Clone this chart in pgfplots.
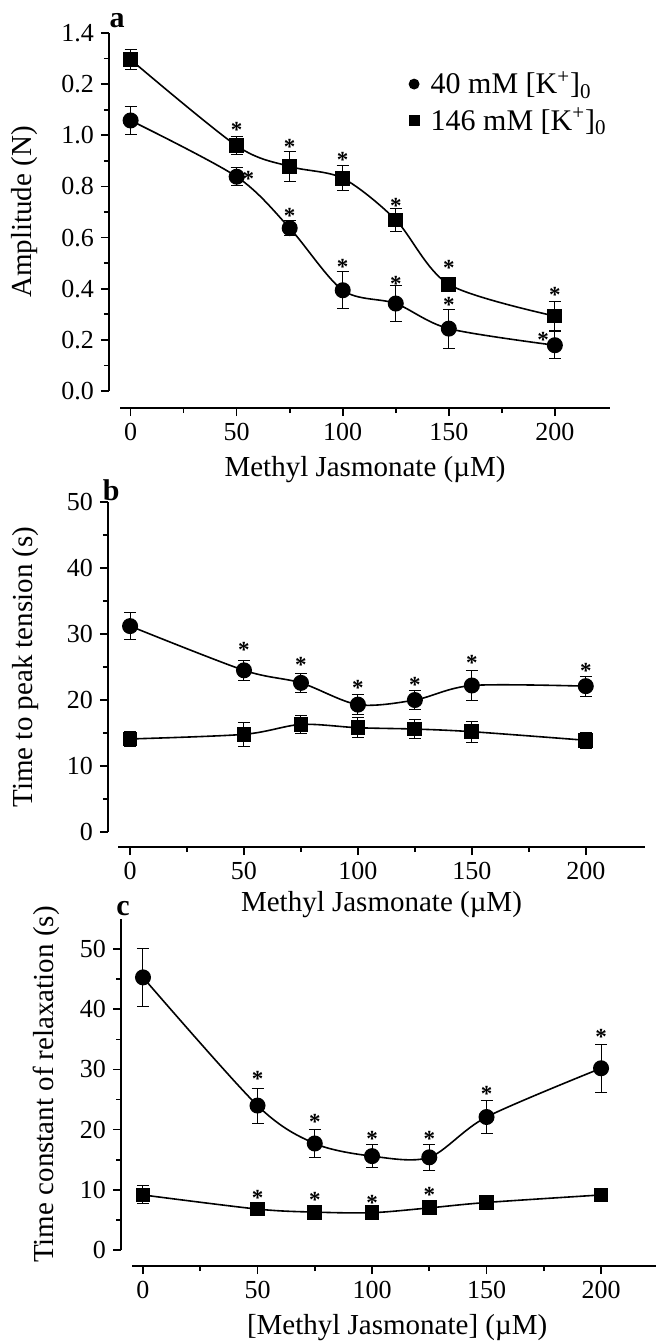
\documentclass[border=0pt]{standalone}
\usepackage{fontspec}
\setmainfont{Liberation Serif}
\usepackage{pgfplots}
\pgfplotsset{compat=1.18}

\pgfplotsset{
  panel/.style={
    scale only axis,
    axis lines=left,
    axis line style={-, line width=1pt},
    tick align=outside,
    major tick length=4pt, minor tick length=2.5pt,
    tick style={black, line width=0.8pt},
    xtick={0,50,...,200}, minor x tick num=1,
    minor y tick num=1,
    tick label style={font=\fontsize{13}{13}\selectfont},
    label style={font=\fontsize{14.5}{15}\selectfont},
    every axis title shift=0pt,
    title style={font=\fontsize{15}{15}\selectfont\bfseries},
    /pgf/number format/assume math mode=true,
    clip=false,
  },
  ebars/.style={
    /pgfplots/error bars/y dir=both,
    /pgfplots/error bars/y explicit,
    /pgfplots/error bars/error bar style={line width=0.5pt},
    /pgfplots/error bars/error mark options={rotate=90, mark size=3pt, line width=0.5pt},
  },
  k40/.style={black, line width=0.8pt, smooth, mark=*, mark size=3.6pt, mark options={solid}, ebars},
  k146/.style={black, line width=0.8pt, smooth, mark=square*, mark size=3.3pt, mark options={solid}, ebars},
  star/.style={black, only marks, mark=text, text mark={\fontsize{11.5}{11.5}\selectfont\bfseries *}, forget plot},
}

\begin{document}
\begin{tikzpicture}
\useasboundingbox (0,0) rectangle (327.5pt,-671.5pt);

% panel a
\begin{axis}[panel,
  at={(60pt,-195.5pt)}, anchor=south west,
  width=245pt, height=179pt,
  xmin=-5, xmax=226, ymin=0, ymax=1.4,
  axis x line shift=8.5pt, axis y line shift=5.5pt,
  ytick={0,0.2,...,1.4},
  yticklabels={0.0,0.2,0.4,0.6,0.8,1.0,0.2,1.4},
  xlabel={Methyl Jasmonate (µM)}, ylabel={Amplitude (N)},
  xlabel style={at={(axis description cs:0.5,-0.22)}, anchor=center},
  ylabel style={at={(axis description cs:-0.194,0.5)}, anchor=center},
  title={a}, title style={at={(axis description cs:-0.006,1.036)}, anchor=center},
  legend style={draw=none, fill=none, at={(axis description cs:0.59,0.905)}, anchor=north west,
    font=\fontsize{15}{15}\selectfont, row sep=1.5pt, column sep=4pt, inner sep=0pt},
  legend cell align=left,
  legend image code/.code={\draw[only marks, mark size=2.3pt] plot coordinates {(0.1cm,0cm)};},
]
\addplot[k40] coordinates {
  (0,1.058) +- (0,0.055)
  (50,0.838) +- (0,0.035)
  (75,0.637) +- (0,0.03)
  (100,0.394) +- (0,0.072)
  (125,0.342) +- (0,0.07)
  (150,0.244) +- (0,0.076)
  (200,0.179) +- (0,0.052)
};
\addlegendentry{40 mM [K\textsuperscript{+}]\textsubscript{0}}
\addplot[k146] coordinates {
  (0,1.296) +- (0,0.04)
  (50,0.959) +- (0,0.036)
  (75,0.878) +- (0,0.06)
  (100,0.832) +- (0,0.048)
  (125,0.669) +- (0,0.044)
  (150,0.417) +- (0,0.01)
  (200,0.293) +- (0,0.058)
};
\addlegendentry{146 mM [K\textsuperscript{+}]\textsubscript{0}}
\addplot[star] coordinates {
  (50,1.02) (75,0.955) (100,0.905) (125,0.725) (150,0.48) (200,0.375)
  (55.5,0.83) (75,0.685) (100,0.485) (125,0.42) (150,0.335) (194.5,0.20)
};
\end{axis}

% panel b
\begin{axis}[panel,
  at={(59pt,-416pt)}, anchor=south west,
  width=263.5pt, height=165pt,
  xmin=-5.3, xmax=226, ymin=0, ymax=50,
  axis x line shift=7.5pt, axis y line shift=5pt,
  ytick={0,10,...,50},
  xlabel={Methyl Jasmonate (µM)}, ylabel={Time to peak tension (s)},
  xlabel style={at={(axis description cs:0.5,-0.221)}, anchor=center},
  ylabel style={at={(axis description cs:-0.176,0.5)}, anchor=center},
  title={b}, title style={at={(axis description cs:-0.013,1.036)}, anchor=center},
]
\addplot[k40] coordinates {
  (0,31.2) +- (0,2.1)
  (50,24.5) +- (0,1.5)
  (75,22.6) +- (0,1.4)
  (100,19.3) +- (0,1.5)
  (125,20.0) +- (0,1.4)
  (150,22.2) +- (0,2.3)
  (200,22.1) +- (0,1.5)
};
\addplot[k146] coordinates {
  (0,14.1) +- (0,1.2)
  (50,14.8) +- (0,1.8)
  (75,16.3) +- (0,1.4)
  (100,15.8) +- (0,1.5)
  (125,15.6) +- (0,1.5)
  (150,15.2) +- (0,1.6)
  (200,13.9) +- (0,1.2)
};
\addplot[star] coordinates {
  (50,27.6) (75,25.3) (100,21.8) (125,22.3) (150,25.6) (200,24.4)
};
\end{axis}

% panel c
\begin{axis}[panel,
  at={(66pt,-625pt)}, anchor=south west,
  width=262pt, height=165.5pt,
  xmin=-4.8, xmax=224, ymin=0, ymax=55,
  axis x line shift=8pt, axis y line shift=5.5pt,
  ytick={0,10,...,50},
  xlabel={[Methyl Jasmonate] (µM)}, ylabel={Time constant of relaxation (s)},
  xlabel style={at={(axis description cs:0.506,-0.233)}, anchor=center},
  ylabel style={at={(axis description cs:-0.164,0.5)}, anchor=center},
  title={c}, title style={at={(axis description cs:-0.017,1.033)}, anchor=center},
]
\addplot[k40] coordinates {
  (0,45.3) +- (0,4.85)
  (50,24.0) +- (0,2.9)
  (75,17.7) +- (0,2.4)
  (100,15.6) +- (0,1.9)
  (125,15.4) +- (0,2.2)
  (150,22.1) +- (0,2.7)
  (200,30.2) +- (0,4.0)
};
\addplot[k146] coordinates {
  (0,9.15) +- (0,1.5)
  (50,6.8) +- (0,0.4)
  (75,6.3) +- (0,0.4)
  (100,6.2) +- (0,0.4)
  (125,7.0) +- (0,0.4)
  (150,7.9) +- (0,0.4)
  (200,9.15) +- (0,0.5)
};
\addplot[star] coordinates {
  (50,28.5) (75,21.3) (100,18.5) (125,18.4) (150,25.9) (200,35.4)
  (50,8.7) (75,8.3) (100,7.8) (125,9.1)
};
\end{axis}
\end{tikzpicture}
\end{document}
